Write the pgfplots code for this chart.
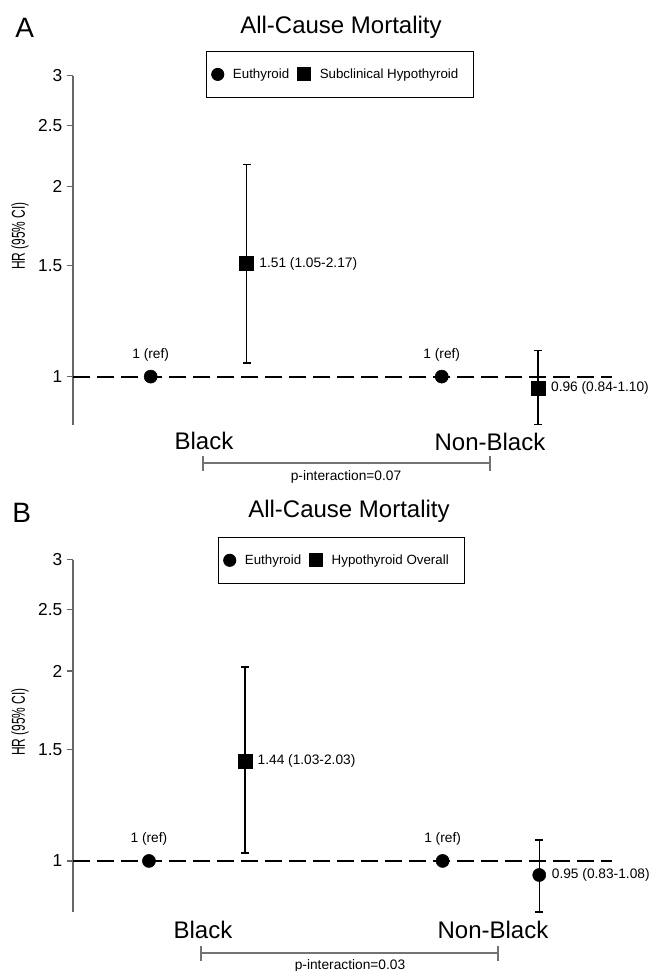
\documentclass[border=0pt]{standalone}
\usepackage{fontspec}
\setmainfont{Liberation Sans}
\usepackage{graphicx}
\usepackage{pgfplots}
\pgfplotsset{compat=1.18}

\newcommand{\smalltxt}{\fontsize{10.3}{12}\selectfont}
\newcommand{\legtxt}{\fontsize{10}{12}\selectfont}
\newcommand{\bigtxt}{\fontsize{18}{21}\selectfont}

\pgfplotsset{
  refline/.style={black, line width=1.5pt, dash pattern=on 12.75pt off 5.25pt, forget plot},
  ci/.style={black, line width=1.1pt, mark=-, mark size=3pt,
    mark options={solid, line width=1.1pt}, forget plot},
  eu/.style={only marks, mark=*, mark size=4.9pt, black,
    legend image code/.code={\fill[black] (0pt,0pt) circle (4.5pt);}},
  sq/.style={only marks, mark=square*, mark size=5.25pt, black,
    legend image code/.code={\fill[black] (-4.9pt,-4.9pt) rectangle (4.9pt,4.9pt);}},
}

\begin{document}
\begin{tikzpicture}

% ---------------- panel A ----------------
\begin{axis}[
  scale only axis, anchor=south west, at={(54.75pt,-318.75pt)},
  width=404.25pt, height=262pt,
  ymode=log, ymin=0.838, ymax=3, xmin=0.568, xmax=2.42,
  axis x line=none, axis y line*=left,
  ytick={1,1.5,2,2.5,3}, yticklabels={1,1.5,2,2.5,3},
  yminorticks=false,
  tick align=outside, major tick length=4.5pt,
  axis line style={black!60, line width=0.9pt},
  major tick style={black!60, line width=0.9pt},
  yticklabel style={font=\fontsize{13}{15}\selectfont},
  /pgf/number format/assume math mode=true,
  clip=false,
  legend columns=-1,
  legend style={at={(0.2468,1.0707)}, anchor=north west, draw=black, line width=0.8pt,
    font=\legtxt, inner xsep=3.5pt, inner ysep=10.8pt,
    /tikz/every odd column/.append style={column sep=4.5pt},
    /tikz/every even column/.append style={column sep=3.75pt}},
]
\addplot[refline] coordinates {(0.568,1) (2.42,1)};
\addplot[ci] coordinates {(1.165,1.05) (1.165,2.17)};
\addplot[ci] coordinates {(2.165,0.84) (2.165,1.10)};
\addplot[eu] coordinates {(0.835,1) (1.835,1)};
\addlegendentry{Euthyroid}
\addplot[sq] coordinates {(1.165,1.51) (2.165,0.96)};
\addlegendentry{Subclinical Hypothyroid\hspace*{6pt}}
\node[font=\smalltxt, yshift=16.3pt] at (axis cs:0.835,1) {1 (ref)};
\node[font=\smalltxt, yshift=16.3pt] at (axis cs:1.835,1) {1 (ref)};
\node[font=\smalltxt, anchor=west, inner sep=0pt, xshift=9.3pt] at (axis cs:1.165,1.51) {1.51 (1.05-2.17)};
\node[font=\smalltxt, anchor=west, inner sep=0pt, xshift=9.8pt] at (axis cs:2.165,0.96) {0.96 (0.84-1.10)};
\end{axis}

\node[anchor=base west, inner sep=0pt, font=\fontsize{21}{24}\selectfont] at (11.25pt,-27.75pt) {A};
\node[anchor=base, inner sep=0pt, font=\bigtxt] at (255.75pt,-24.75pt) {All-Cause Mortality};
\node[rotate=90, inner sep=0pt, font=\fontsize{14}{16}\selectfont] at (15pt,-177pt) {\scalebox{0.64}[1]{HR (95\% CI)}};
\node[anchor=base, inner sep=0pt, font=\bigtxt] at (153pt,-336.75pt) {Black};
\node[anchor=base, inner sep=0pt, font=\bigtxt] at (367.5pt,-337.5pt) {Non-Black};
\draw[black!55, line width=1.1pt] (152.25pt,-347.25pt) -- (367.5pt,-347.25pt);
\draw[black!55, line width=1.1pt] (152.25pt,-342pt) -- (152.25pt,-353.25pt);
\draw[black!55, line width=1.1pt] (367.5pt,-342pt) -- (367.5pt,-353.25pt);
\node[anchor=base, inner sep=0pt, font=\smalltxt] at (259.5pt,-360pt) {p-interaction=0.07};

% ---------------- panel B ----------------
\begin{axis}[
  scale only axis, anchor=south west, at={(54.75pt,-684pt)},
  width=404.25pt, height=264.1pt,
  ymode=log, ymin=0.83, ymax=3, xmin=0.568, xmax=2.42,
  axis x line=none, axis y line*=left,
  ytick={1,1.5,2,2.5,3}, yticklabels={1,1.5,2,2.5,3},
  yminorticks=false,
  tick align=outside, major tick length=4.5pt,
  axis line style={black!60, line width=0.9pt},
  major tick style={black!60, line width=0.9pt},
  yticklabel style={font=\fontsize{13}{15}\selectfont},
  /pgf/number format/assume math mode=true,
  clip=false,
  legend columns=-1,
  legend style={at={(0.269,1.0653)}, anchor=north west, draw=black, line width=0.8pt,
    font=\legtxt, inner xsep=3.5pt, inner ysep=10.8pt,
    /tikz/every odd column/.append style={column sep=4.5pt},
    /tikz/every even column/.append style={column sep=3.75pt}},
]
\addplot[refline] coordinates {(0.568,1) (2.42,1)};
\addplot[ci] coordinates {(1.159,1.03) (1.159,2.03)};
\addplot[ci] coordinates {(2.170,0.83) (2.170,1.08)};
\addplot[eu] coordinates {(0.829,1) (1.838,1)};
\addlegendentry{Euthyroid}
\addplot[sq] coordinates {(1.159,1.44)};
\addlegendentry{Hypothyroid Overall\hspace*{6pt}}
\addplot[eu, forget plot] coordinates {(2.170,0.95)};
\node[font=\smalltxt, yshift=16.3pt] at (axis cs:0.829,1) {1 (ref)};
\node[font=\smalltxt, yshift=16.3pt] at (axis cs:1.838,1) {1 (ref)};
\node[font=\smalltxt, anchor=west, inner sep=0pt, xshift=9.3pt] at (axis cs:1.159,1.44) {1.44 (1.03-2.03)};
\node[font=\smalltxt, anchor=west, inner sep=0pt, xshift=9.3pt] at (axis cs:2.170,0.95) {0.95 (0.83-1.08)};
\end{axis}

\node[anchor=base west, inner sep=0pt, font=\fontsize{21}{24}\selectfont] at (9pt,-391.5pt) {B};
\node[anchor=base, inner sep=0pt, font=\bigtxt] at (261.75pt,-388.1pt) {All-Cause Mortality};
\node[rotate=90, inner sep=0pt, font=\fontsize{14}{16}\selectfont] at (15pt,-541.5pt) {\scalebox{0.64}[1]{HR (95\% CI)}};
\node[anchor=base, inner sep=0pt, font=\bigtxt] at (152.25pt,-703.5pt) {Black};
\node[anchor=base, inner sep=0pt, font=\bigtxt] at (369.75pt,-703.5pt) {Non-Black};
\draw[black!55, line width=1.1pt] (150.75pt,-714.75pt) -- (373.5pt,-714.75pt);
\draw[black!55, line width=1.1pt] (150.75pt,-709.5pt) -- (150.75pt,-720.75pt);
\draw[black!55, line width=1.1pt] (373.5pt,-709.5pt) -- (373.5pt,-720.75pt);
\node[anchor=base, inner sep=0pt, font=\smalltxt] at (262.5pt,-726.75pt) {p-interaction=0.03};

\pgfresetboundingbox
\path (0pt,0pt) rectangle (488.25pt,-728.25pt);
\end{tikzpicture}
\end{document}
